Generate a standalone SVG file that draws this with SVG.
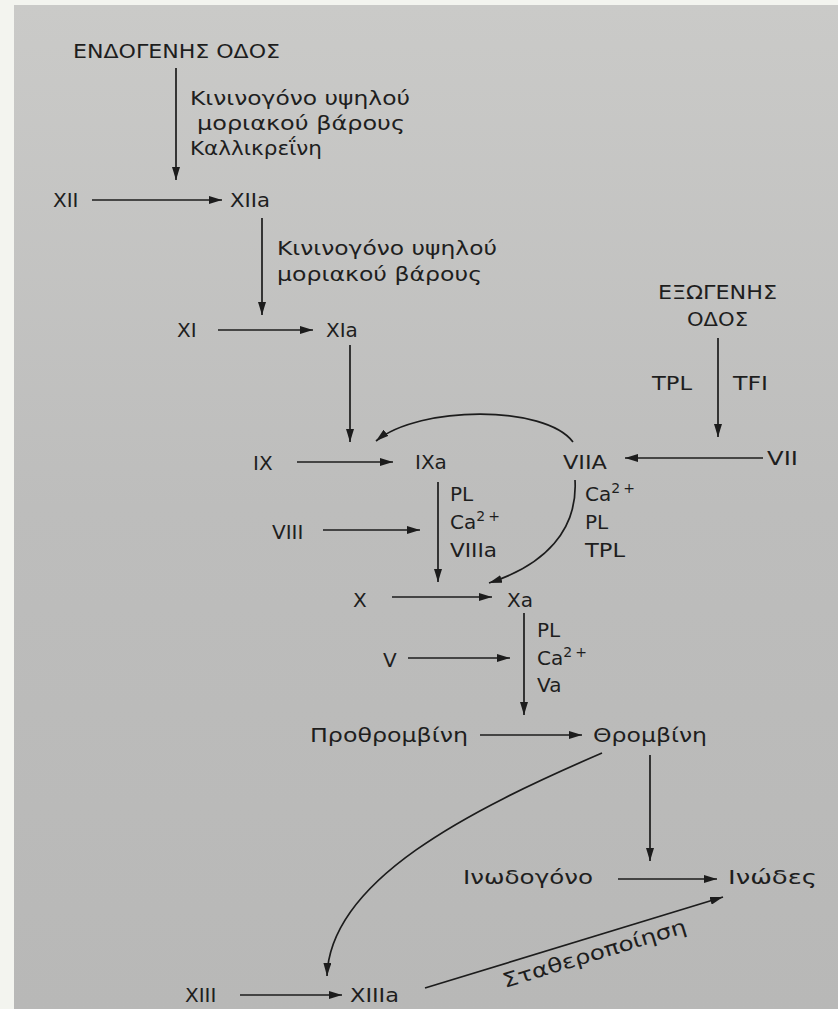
<svg xmlns="http://www.w3.org/2000/svg" width="838" height="1009" viewBox="0 0 838 1009">
<defs>
<linearGradient id="paper" x1="0" y1="0" x2="0" y2="1">
<stop offset="0" stop-color="#cacac8"/>
<stop offset="0.5" stop-color="#bdbdbc"/>
<stop offset="1" stop-color="#b8b8b7"/>
</linearGradient>
<marker id="ah" viewBox="0 0 13 8" refX="13" refY="4" markerWidth="13" markerHeight="8" markerUnits="userSpaceOnUse" orient="auto">
<path d="M0,0 L13,4 L0,8 z" fill="#1c1c1c"/>
</marker>
<style>
text{font-family:"DejaVu Sans","Liberation Sans",sans-serif;font-size:20px;fill:#1e1e1e}
.sup{font-size:14px;letter-spacing:3px}
.c line,.c path{stroke:#1c1c1c;stroke-width:1.7;fill:none;marker-end:url(#ah)}
</style>
</defs>
<rect x="0" y="0" width="838" height="1009" fill="#f3f4ef"/>
<rect x="14" y="5" width="824" height="1004" fill="url(#paper)"/>

<g id="connectors" class="c">
<line x1="176" y1="68" x2="176" y2="180"/>
<line x1="92" y1="200" x2="222" y2="200"/>
<line x1="262" y1="218" x2="262" y2="315"/>
<line x1="218" y1="330" x2="313" y2="330"/>
<line x1="350" y1="345" x2="350" y2="442"/>
<line x1="718" y1="338" x2="718" y2="437"/>
<line x1="763" y1="458" x2="625" y2="458"/>
<line x1="297" y1="462" x2="393" y2="462"/>
<path d="M573,442 C545,405 420,405 376,441"/>
<line x1="438" y1="482" x2="438" y2="582"/>
<line x1="323" y1="530" x2="420" y2="530"/>
<path d="M575,480 C578,530 545,565 489,583"/>
<line x1="392" y1="597" x2="492" y2="597"/>
<line x1="524" y1="613" x2="524" y2="715"/>
<line x1="408" y1="658" x2="510" y2="658"/>
<line x1="480" y1="735" x2="582" y2="735"/>
<line x1="650" y1="755" x2="650" y2="861"/>
<path d="M602,753 C470,810 330,880 327,976"/>
<line x1="618" y1="879" x2="717" y2="879"/>
<line x1="240" y1="995" x2="342" y2="995"/>
<line x1="425" y1="988" x2="723" y2="897"/>
</g>

<g id="edge-labels">
<text x="190" y="105" textLength="220" lengthAdjust="spacingAndGlyphs">Κινινογόνο υψηλού</text>
<text x="197" y="130" textLength="208" lengthAdjust="spacingAndGlyphs">μοριακού βάρους</text>
<text x="190" y="155" textLength="132" lengthAdjust="spacingAndGlyphs">Καλλικρεΐνη</text>
<text x="277" y="255" textLength="220" lengthAdjust="spacingAndGlyphs">Κινινογόνο υψηλού</text>
<text x="277" y="281" textLength="205" lengthAdjust="spacingAndGlyphs">μοριακού βάρους</text>
<text x="652" y="390" textLength="40" lengthAdjust="spacingAndGlyphs">TPL</text>
<text x="733" y="390" textLength="35" lengthAdjust="spacingAndGlyphs">TFI</text>
<text x="450" y="501">PL</text>
<text x="450" y="529">Ca<tspan class="sup" dy="-8">2+</tspan></text>
<text x="450" y="557" textLength="47" lengthAdjust="spacingAndGlyphs">VIIIa</text>
<text x="585" y="501">Ca<tspan class="sup" dy="-8">2+</tspan></text>
<text x="585" y="529">PL</text>
<text x="585" y="557" textLength="40" lengthAdjust="spacingAndGlyphs">TPL</text>
<text x="537" y="637">PL</text>
<text x="537" y="665">Ca<tspan class="sup" dy="-8">2+</tspan></text>
<text x="537" y="692">Va</text>
<text x="505" y="988" transform="rotate(-17 505 988)" textLength="191" lengthAdjust="spacingAndGlyphs">Σταθεροποίηση</text>
</g>

<g id="node-endogenous"><text x="73" y="58" textLength="207" lengthAdjust="spacingAndGlyphs">ΕΝΔΟΓΕΝΗΣ ΟΔΟΣ</text></g>
<g id="node-exogenous">
<text x="658" y="299" textLength="119" lengthAdjust="spacingAndGlyphs">ΕΞΩΓΕΝΗΣ</text>
<text x="687" y="326" textLength="61" lengthAdjust="spacingAndGlyphs">ΟΔΟΣ</text>
</g>
<g id="node-XII"><text x="53" y="207">XII</text></g>
<g id="node-XIIa"><text x="230" y="207" textLength="40" lengthAdjust="spacingAndGlyphs">XIIa</text></g>
<g id="node-XI"><text x="177" y="337">XI</text></g>
<g id="node-XIa"><text x="326" y="337">XIa</text></g>
<g id="node-VII"><text x="767" y="465" textLength="31" lengthAdjust="spacingAndGlyphs">VII</text></g>
<g id="node-VIIA"><text x="563" y="469" textLength="44" lengthAdjust="spacingAndGlyphs">VIIA</text></g>
<g id="node-IX"><text x="253" y="470">IX</text></g>
<g id="node-IXa"><text x="415" y="469">IXa</text></g>
<g id="node-VIII"><text x="272" y="539">VIII</text></g>
<g id="node-X"><text x="353" y="607">X</text></g>
<g id="node-Xa"><text x="507" y="607">Xa</text></g>
<g id="node-V"><text x="383" y="667">V</text></g>
<g id="node-prothrombin"><text x="310" y="742" textLength="158" lengthAdjust="spacingAndGlyphs">Προθρομβίνη</text></g>
<g id="node-thrombin"><text x="593" y="742" textLength="114" lengthAdjust="spacingAndGlyphs">Θρομβίνη</text></g>
<g id="node-fibrinogen"><text x="463" y="884" textLength="130" lengthAdjust="spacingAndGlyphs">Ινωδογόνο</text></g>
<g id="node-fibrin"><text x="728" y="884" textLength="89" lengthAdjust="spacingAndGlyphs">Ινώδες</text></g>
<g id="node-XIII"><text x="185" y="1002">XIII</text></g>
<g id="node-XIIIa"><text x="350" y="1002" textLength="49" lengthAdjust="spacingAndGlyphs">XIIIa</text></g>
</svg>
